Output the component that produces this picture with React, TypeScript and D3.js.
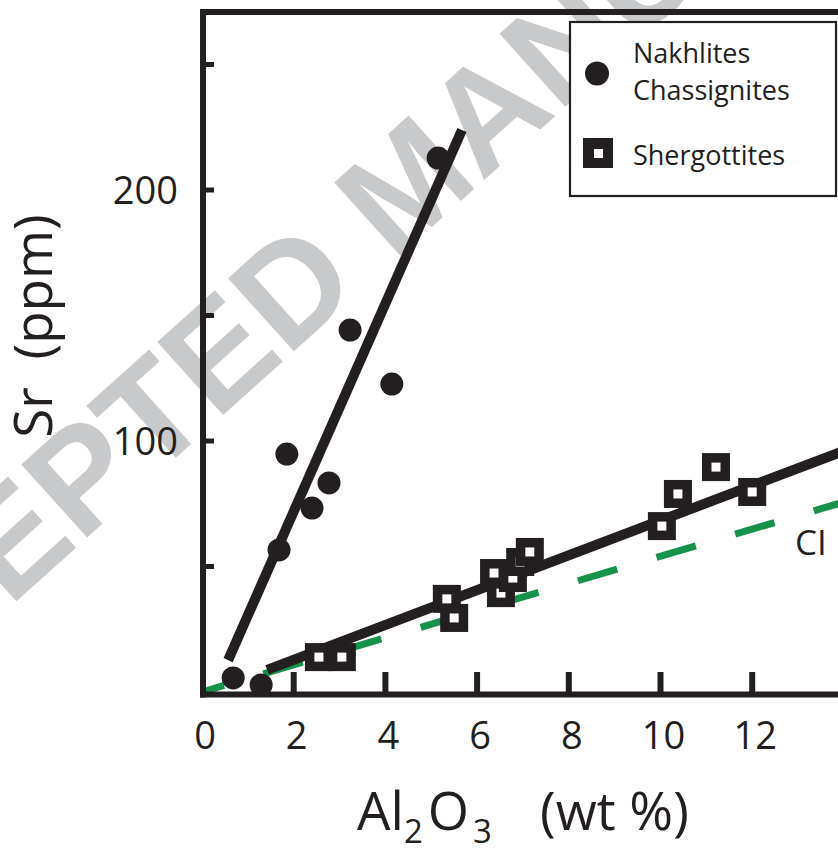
import React from 'react';
import * as d3 from 'd3';

// ---- data ----
const nakhlitesAl2O3 = [0.68, 1.29, 1.68, 1.85, 2.4, 2.77, 3.23, 4.14, 5.15];
const nakhlitesSr = [5.6, 2.8, 56.6, 94.8, 73.3, 83.3, 144.2, 122.7, 212.7];
const shergottitesAl2O3 = [2.55, 3.05, 5.34, 5.5, 6.37, 6.52, 6.78, 6.94, 7.15, 10.03, 10.38, 11.21, 12.0];
const shergottitesSr = [13.9, 13.9, 37.1, 29.5, 47.4, 39.4, 45.4, 51.8, 55.8, 66.1, 78.9, 89.6, 79.7];
const nakhliteFit: [number, number][] = [[0.57, 12.7], [5.67, 223.9]];
const shergottiteFit: [number, number][] = [[1.42, 8.8], [14, 96.1]];
const ciLine: [number, number][] = [[0, 0], [14, 75.7]];
const xTickLabels = [0, 2, 4, 6, 8, 10, 12];
const xTickMarks = [2, 4, 6, 8, 10, 12];
const yTickMarks = [50, 100, 150, 200, 250];
const yTickLabels = [100, 200];
const legendLabels = ['Nakhlites', 'Chassignites', 'Shergottites'];

const INK = '#231f20';
const GREEN = '#17924a';
const FONT = '"Open Sans", "Noto Sans", sans-serif';

export default function App() {
  const W = 838;
  const H = 849;
  const x = d3.scaleLinear().domain([0, 14]).range([202, 202 + 14 * 45.85]);
  const y = d3.scaleLinear().domain([0, 270]).range([692, 692 - 270 * 2.51]);
  const line = d3
    .line<[number, number]>()
    .x((d) => x(d[0]))
    .y((d) => y(d[1]));

  const circles = nakhlitesAl2O3.map((v, i) => ({ x: v, y: nakhlitesSr[i] }));
  const squares = shergottitesAl2O3.map((v, i) => ({ x: v, y: shergottitesSr[i] }));

  const x0 = x(0);
  const y0 = y(0);

  return (
    <svg
      width={W}
      height={H}
      viewBox={`0 0 ${W} ${H}`}
      style={{ position: 'absolute', left: 0, top: 0, display: 'block', background: '#fff' }}
    >
      <rect x={0} y={0} width={W} height={H} fill="#fff" />
      {/* watermark */}
      <text
        x={-221}
        y={815}
        transform="rotate(-42, -221, 815)"
        fontFamily='"Liberation Sans", Arial, sans-serif'
        fontWeight="bold"
        fontSize={143}
        fill="#c8c9cb"
      >
        ACCEPTED MANUSCRIPT
      </text>

      {/* legend box */}
      <rect x={570} y={22} width={266} height={174} fill="#fff" stroke={INK} strokeWidth={2.2} />
      <circle cx={597} cy={73.5} r={12} fill={INK} />
      <rect x={583} y={138} width={30} height={30} fill={INK} />
      <rect x={594} y={149} width={9} height={9} fill="#fff" />
      <g fontFamily={FONT} fontSize={27} fill={INK}>
        <text x={633} y={63}>{legendLabels[0]}</text>
        <text x={633} y={100}>{legendLabels[1]}</text>
        <text x={633} y={165}>{legendLabels[2]}</text>
      </g>

      {/* CI dashed line */}
      <path
        d={line(ciLine) || ''}
        fill="none"
        stroke={GREEN}
        strokeWidth={7}
        strokeDasharray="41 41"
        strokeDashoffset={18}
      />
      <text x={795} y={555} fontFamily={FONT} fontSize={35} fill={INK}>CI</text>

      {/* fit lines */}
      <path d={line(nakhliteFit) || ''} fill="none" stroke={INK} strokeWidth={10} />
      <path d={line(shergottiteFit) || ''} fill="none" stroke={INK} strokeWidth={10} />

      {/* nakhlites / chassignites */}
      {circles.map((d, i) => (
        <circle key={'c' + i} cx={x(d.x)} cy={y(d.y)} r={11.5} fill={INK} />
      ))}

      {/* shergottites */}
      {squares.map((d, i) => (
        <g key={'s' + i}>
          <rect x={x(d.x) - 14} y={y(d.y) - 14} width={28} height={28} fill={INK} />
          <rect x={x(d.x) - 4.5} y={y(d.y) - 4.5} width={9} height={9} fill="#fff" />
        </g>
      ))}

      {/* frame */}
      <line x1={200} x2={W} y1={12} y2={12} stroke={INK} strokeWidth={6} />
      <line x1={203} x2={203} y1={9} y2={697.5} stroke={INK} strokeWidth={6} />
      <line x1={200} x2={W} y1={y0 + 2.5} y2={y0 + 2.5} stroke={INK} strokeWidth={6} />

      {/* x ticks */}
      {xTickMarks.map((t) => (
        <line key={'xt' + t} x1={x(t)} x2={x(t)} y1={y0} y2={y0 - 20} stroke={INK} strokeWidth={6} />
      ))}
      {/* y ticks */}
      {yTickMarks.map((t) => (
        <line key={'yt' + t} x1={203} x2={214} y1={y(t)} y2={y(t)} stroke={INK} strokeWidth={5} />
      ))}

      {/* tick labels */}
      <g fontFamily={FONT} fontSize={38} fill={INK}>
        {xTickLabels.map((t) => (
          <text key={'xl' + t} x={x(t) + 3} y={749} textAnchor="middle">
            {t}
          </text>
        ))}
        {yTickLabels.map((t) => (
          <text key={'yl' + t} x={178} y={y(t) + 14} textAnchor="end">
            {t}
          </text>
        ))}
      </g>

      {/* axis titles */}
      <text x={357} y={830} fontFamily={FONT} fontSize={53} fill={INK}>
        Al
        <tspan fontSize={33} dy={13}>2</tspan>
        <tspan dy={-13} dx={5}>O</tspan>
        <tspan fontSize={33} dy={13} dx={4}>3</tspan>
        <tspan x={540} dy={-13}>(wt %)</tspan>
      </text>
      <text
        transform="translate(52, 326) rotate(-90)"
        textAnchor="middle"
        fontFamily={FONT}
        fontSize={53}
        fill={INK}
      >
        {'Sr\u00A0\u00A0(ppm)'}
      </text>
    </svg>
  );
}
